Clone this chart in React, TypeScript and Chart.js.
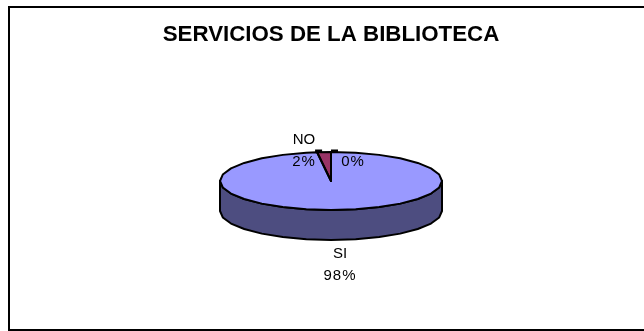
import React, { useEffect, useRef } from "react";
import { Chart, registerables, Plugin } from "chart.js";

Chart.register(...registerables);

const chartTitle = "SERVICIOS DE LA BIBLIOTECA";
const categories = ["SI", "NO", ""];
const shares = [98, 2, 0];
const topColors = ["#9999FF", "#993366", "#FFFFCC"];
const wallColors = ["#4D4D80", "#4D1A33", "#808066"];

const FONT = '"Liberation Sans", Arial, sans-serif';
const RADIUS = 111;
const SQUASH = 0.261;
const DEPTH = 30;
const FACET = Math.PI / 14;
const INK = "#000000";

type ArcGeom = { x: number; y: number; startAngle: number; endAngle: number };

const arcsOf = (chart: any): ArcGeom[] =>
  chart.getDatasetMeta(0).data.map((el: any) =>
    el.getProps(["x", "y", "startAngle", "endAngle"], true)
  );

// Traces a rim section as short straight runs, giving the coarse metafile look.
const traceRim = (
  ctx: CanvasRenderingContext2D,
  cx: number,
  cy: number,
  ry: number,
  from: number,
  to: number
) => {
  const dir = to >= from ? 1 : -1;
  const first = dir > 0 ? Math.ceil(from / FACET + 1e-6) : Math.floor(from / FACET - 1e-6);
  ctx.lineTo(cx + RADIUS * Math.cos(from), cy + ry * Math.sin(from));
  for (let k = first; dir > 0 ? k * FACET < to : k * FACET > to; k += dir) {
    const t = k * FACET;
    ctx.lineTo(cx + RADIUS * Math.cos(t), cy + ry * Math.sin(t));
  }
  ctx.lineTo(cx + RADIUS * Math.cos(to), cy + ry * Math.sin(to));
};

// Outer border of the card: open on its right side.
const framePlugin: Plugin<"pie"> = {
  id: "frame",
  beforeDraw(chart) {
    const { ctx, width, height } = chart;
    ctx.save();
    ctx.fillStyle = "#FFFFFF";
    ctx.fillRect(0, 0, width, height);
    ctx.strokeStyle = INK;
    ctx.lineWidth = 2;
    ctx.beginPath();
    ctx.moveTo(width, 7);
    ctx.lineTo(9, 7);
    ctx.lineTo(9, height - 1);
    ctx.lineTo(width, height - 1);
    ctx.stroke();
    ctx.restore();
  },
};

// Flattens the pie into an ellipse and adds the visible wall below it.
const tiltPlugin: Plugin<"pie"> = {
  id: "tilt",
  beforeDatasetsDraw(chart) {
    const { ctx } = chart;
    const arcs = arcsOf(chart);
    if (!arcs.length) return;
    const { x, y } = arcs[0];
    const ry = RADIUS * SQUASH;

    ctx.save();
    ctx.lineWidth = 2;
    ctx.strokeStyle = INK;
    ctx.lineJoin = "round";
    arcs.forEach((a, i) => {
      const from = Math.max(a.startAngle, 0);
      const to = Math.min(a.endAngle, Math.PI);
      if (to <= from) return;
      ctx.beginPath();
      traceRim(ctx, x, y, ry, from, to);
      traceRim(ctx, x, y + DEPTH, ry, to, from);
      ctx.closePath();
      ctx.fillStyle = wallColors[i];
      ctx.fill();
      ctx.stroke();
    });
    ctx.restore();

    ctx.save();
    ctx.translate(x, y);
    ctx.scale(1, SQUASH);
    ctx.translate(-x, -y);
  },
  afterDatasetsDraw(chart) {
    const { ctx } = chart;
    ctx.restore();
    const arcs = arcsOf(chart);
    if (!arcs.length) return;
    const ry = RADIUS * SQUASH;

    ctx.save();
    ctx.strokeStyle = INK;
    ctx.lineWidth = 2;
    ctx.lineJoin = "round";
    arcs.forEach((a) => {
      ctx.beginPath();
      ctx.moveTo(a.x, a.y);
      traceRim(ctx, a.x, a.y, ry, a.startAngle, a.endAngle);
      ctx.closePath();
      ctx.stroke();
    });

    // Small rim marks either side of the narrow slice.
    const narrow = arcs[1];
    const topY = narrow.y - ry - 1;
    const leftX = narrow.x + RADIUS * Math.cos(narrow.startAngle);
    const rightX = narrow.x + RADIUS * Math.cos(narrow.endAngle);
    ctx.lineWidth = 3;
    ctx.beginPath();
    ctx.moveTo(leftX - 2, topY);
    ctx.lineTo(leftX + 5, topY);
    ctx.moveTo(rightX, topY);
    ctx.lineTo(rightX + 7, topY);
    ctx.stroke();
    ctx.restore();
  },
};

// Category name and percentage beside each slice.
const labelPlugin: Plugin<"pie"> = {
  id: "sliceLabels",
  afterDraw(chart) {
    const { ctx } = chart;
    const arcs = arcsOf(chart);
    const ry = RADIUS * SQUASH;
    const nudge = [
      { dx: 2, name: 14, value: 36 },
      { dx: -20, name: -12, value: 10 },
      { dx: 22, name: -12, value: 10 },
    ];
    ctx.save();
    ctx.fillStyle = INK;
    ctx.font = `15px ${FONT}`;
    ctx.textAlign = "center";
    ctx.textBaseline = "middle";
    arcs.forEach((a, i) => {
      const mid = (a.startAngle + a.endAngle) / 2;
      const front = Math.sin(mid) > 0;
      const ex = a.x + RADIUS * Math.cos(mid) + nudge[i].dx;
      const ey = a.y + ry * Math.sin(mid) + (front ? DEPTH : 0);
      if (categories[i]) ctx.fillText(categories[i], ex, ey + nudge[i].name);
      (ctx as any).letterSpacing = "1px";
      ctx.fillText(`${shares[i]}%`, ex, ey + nudge[i].value);
      (ctx as any).letterSpacing = "0px";
    });
    ctx.restore();
  },
};

export default function App() {
  const ref = useRef<HTMLCanvasElement>(null);

  useEffect(() => {
    if (!ref.current) return;
    const chart = new Chart(ref.current, {
      type: "pie",
      data: {
        labels: categories,
        datasets: [
          {
            data: shares,
            backgroundColor: topColors,
            borderWidth: 0,
            radius: RADIUS,
          },
        ],
      },
      options: {
        responsive: false,
        animation: false,
        layout: { padding: { left: 18, right: 0, top: 0, bottom: 22 } },
        plugins: {
          legend: { display: false },
          tooltip: { enabled: false },
          title: {
            display: true,
            text: chartTitle,
            color: INK,
            font: { family: FONT, size: 22.3, weight: "bold", lineHeight: 1.2 },
            padding: { top: 21, bottom: 5.2 },
          },
        },
      },
      plugins: [framePlugin, tiltPlugin, labelPlugin],
    });
    return () => chart.destroy();
  }, []);

  return (
    <div style={{ position: "fixed", left: 0, top: 0, width: 644, height: 331 }}>
      <canvas ref={ref} width={644} height={331} style={{ display: "block" }} />
    </div>
  );
}
